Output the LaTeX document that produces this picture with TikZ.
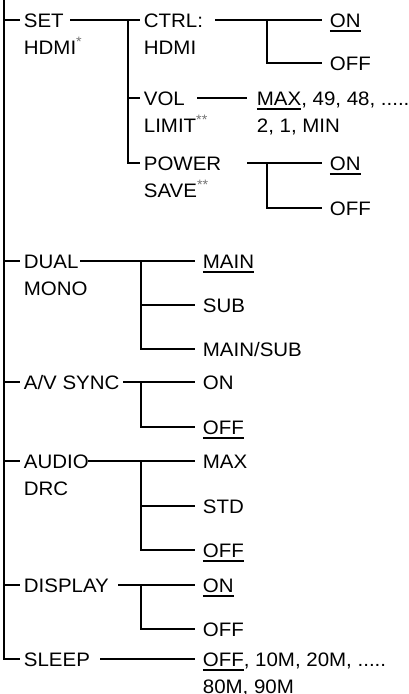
\documentclass[tikz,border=0pt]{standalone}
\usepackage{fontspec}
\setmainfont{Liberation Sans}[FakeStretch=1.05]
\newcommand{\twoline}[2]{\vtop{\hbox{#1}\hbox{#2}}}
\newcommand{\ulbar}[1]{\setbox0\hbox{#1}\rlap{\rule[-4.5pt]{\wd0}{1.5pt}}\box0}
\newcommand{\sast}{\textsuperscript{\color{black!55}*}}
\newcommand{\dast}{\textsuperscript{\color{black!55}**}}
\begin{document}
\begin{tikzpicture}[x=1pt, y=-1pt, line width=1.8pt,
  every node/.style={font=\fontsize{19.5}{27}\selectfont, inner ysep=0pt, text height=14pt, text depth=0pt, anchor=west},
  lbl/.style={inner xsep=3pt},
  opt/.style={inner xsep=7pt}]
\useasboundingbox (0,0) rectangle (409,694);
% menu items on the trunk
\coordinate (top) at (4,0);
\node[lbl] (set) at (20,20) {\twoline{SET}{HDMI\sast}};
\node[lbl] (dual) at (20,261) {\twoline{DUAL}{MONO}};
\node[lbl] (avs) at (20,382) {A/V SYNC};
\node[lbl] (adrc) at (20,461) {\twoline{AUDIO}{DRC}};
\node[lbl] (disp) at (20,585) {DISPLAY};
\node[lbl] (sleep) at (20,659) {SLEEP};
\draw (top) |- (sleep.west);
\foreach \n in {set,dual,avs,adrc,disp}
  \draw (top |- \n.west) -- (\n.west);
% SET HDMI sub menu
\node[lbl] (ctrl) at (140,20) {\twoline{CTRL:}{HDMI}};
\node[lbl] (vol) at (140,98) {\twoline{VOL}{LIMIT\dast}};
\node[lbl] (pwr) at (140,163) {\twoline{POWER}{SAVE\dast}};
\coordinate (set-r) at (70,20);
\coordinate (set-j) at (128,20);
\draw (set-r) -- (ctrl.west);
\draw (set-j) |- (pwr.west);
\draw (set-j |- vol.west) -- (vol.west);
% CTRL: HDMI
\node[opt] (ctrlon) at (322,20) {\ulbar{ON}};
\node[opt] (ctrloff) at (322,63) {OFF};
\coordinate (ctrl-r) at (215,20);
\coordinate (ctrl-j) at (267,20);
\draw (ctrl-r) -- (ctrlon.west);
\draw (ctrl-j) |- (ctrloff.west);
% VOL LIMIT
\node[opt, inner xsep=9pt] (volval) at (247,98) {\twoline{\ulbar{MAX}, 49, 48, .....}{2, 1, MIN}};
\coordinate (vol-r) at (197,98);
\draw (vol-r) -- (volval.west);
% POWER SAVE
\node[opt] (pwron) at (322,163) {\ulbar{ON}};
\node[opt] (pwroff) at (322,208) {OFF};
\coordinate (pwr-r) at (247,163);
\coordinate (pwr-j) at (267,163);
\draw (pwr-r) -- (pwron.west);
\draw (pwr-j) |- (pwroff.west);
% DUAL MONO
\node[opt] (main) at (195,261) {\ulbar{MAIN}};
\node[opt] (sub) at (195,305) {SUB};
\node[opt] (mainsub) at (195,349) {MAIN/SUB};
\coordinate (dual-r) at (80,261);
\coordinate (dual-j) at (141,261);
\draw (dual-r) -- (main.west);
\draw (dual-j) |- (mainsub.west);
\draw (dual-j |- sub.west) -- (sub.west);
% A/V SYNC
\node[opt] (avson) at (195,382) {ON};
\node[opt] (avsoff) at (195,427) {\ulbar{OFF}};
\coordinate (avs-j) at (141,382);
\draw (avs.east) -- (avson.west);
\draw (avs-j) |- (avsoff.west);
% AUDIO DRC
\node[opt] (max) at (195,461) {MAX};
\node[opt] (std) at (195,506) {STD};
\node[opt] (drcoff) at (195,550) {\ulbar{OFF}};
\coordinate (adrc-r) at (88,461);
\coordinate (adrc-j) at (141,461);
\draw (adrc-r) -- (max.west);
\draw (adrc-j) |- (drcoff.west);
\draw (adrc-j |- std.west) -- (std.west);
% DISPLAY
\node[opt] (dispon) at (195,585) {\ulbar{ON}};
\node[opt] (dispoff) at (195,629) {OFF};
\coordinate (disp-r) at (118,585);
\coordinate (disp-j) at (141,585);
\draw (disp-r) -- (dispon.west);
\draw (disp-j) |- (dispoff.west);
% SLEEP
\node[opt] (sleepval) at (195,659) {\twoline{\ulbar{OFF}, 10M, 20M, .....}{80M, 90M}};
\coordinate (sleep-r) at (100,659);
\draw (sleep-r) -- (sleepval.west);
\end{tikzpicture}
\end{document}
